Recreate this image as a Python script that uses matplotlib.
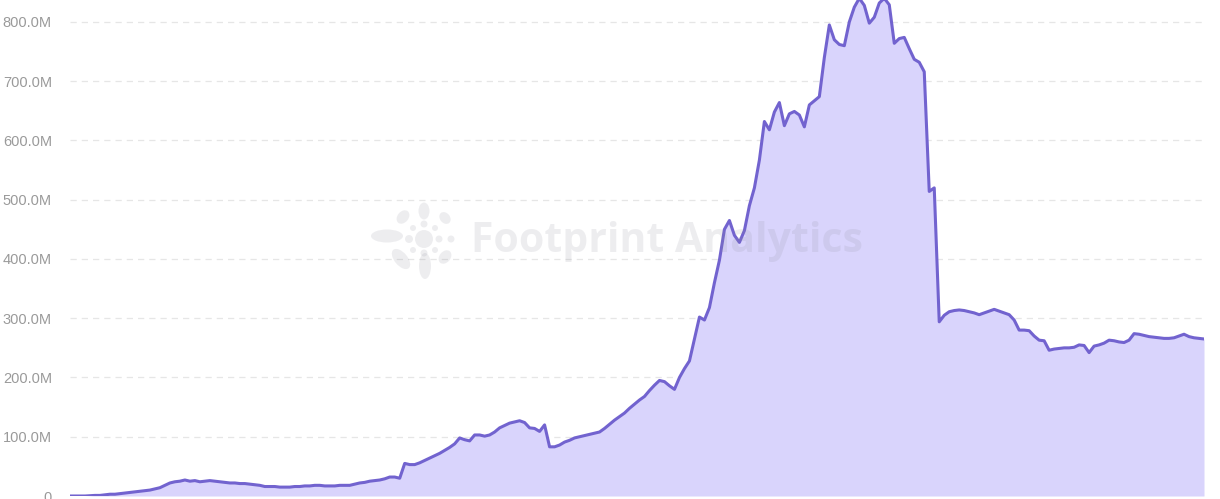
import matplotlib
matplotlib.use("Agg")
import matplotlib.pyplot as plt
from matplotlib.patches import Ellipse
from matplotlib.ticker import FuncFormatter
import numpy as np
import pandas as pd

# ---- data (values in millions, one per period) ----
values_m = [
    0, 0, 0, 0, 0.5, 1, 1, 2, 3, 3, 4, 5, 6, 7, 8, 9, 10, 12, 14, 18,
    22, 24, 25, 27, 25, 26, 24, 25, 26, 25, 24, 23, 22, 22, 21, 21, 20, 19, 18, 16,
    16, 16, 15, 15, 15, 16, 16, 17, 17, 18, 18, 17, 17, 17, 18, 18, 18, 20, 22, 23,
    25, 26, 27, 29, 32, 32, 30, 55, 53, 53, 56, 60, 64, 68, 72, 77, 82, 88, 98, 95,
    93, 103, 103, 101, 103, 108, 115, 119, 123, 125, 127, 124, 115, 114, 109, 120, 83, 83, 86, 91,
    94, 98, 100, 102, 104, 106, 108, 114, 121, 128, 134, 140, 148, 155, 162, 168, 178, 187, 195, 193,
    186, 180, 200, 215, 228, 265, 302, 297, 318, 360, 398, 450, 465, 440, 428, 448, 490, 520, 567, 632,
    618, 648, 664, 625, 645, 649, 643, 623, 660, 667, 674, 740, 795, 770, 762, 760, 800, 825, 840, 828,
    798, 808, 832, 840, 829, 764, 772, 774, 755, 737, 732, 716, 514, 520, 294, 305, 311, 313, 314, 313,
    311, 309, 306, 309, 312, 315, 312, 309, 306, 297, 280, 280, 279, 270, 263, 262, 246, 248, 249, 250,
    250, 251, 255, 254, 242, 253, 255, 258, 263, 262, 260, 259, 263, 274, 273, 271, 269, 268, 267, 266,
    266, 267, 270, 273, 269, 267, 266, 265,
]
y_ticks_m = [0, 100, 200, 300, 400, 500, 600, 700, 800]
watermark = "Footprint Analytics"

dates = pd.date_range("2021-01-01", periods=len(values_m), freq="D")
values = np.array(values_m) * 1e6

LINE = "#7263CF"
FILL = "#D9D4FC"

W, H = 1220, 499
fig = plt.figure(figsize=(W / 100, H / 100), dpi=100)
fig.patch.set_facecolor("white")
ax = fig.add_axes([70 / W, 3 / H, 1134 / W, 496 / H])
ax.set_facecolor("white")

ax.fill_between(dates, values, 0, color=FILL, linewidth=0, zorder=2)
ax.plot(dates, values, color=LINE, linewidth=2.2, zorder=3, solid_joinstyle="round")

ax.set_xlim(dates[0], dates[-1])
ax.set_ylim(0, 837.1e6)
ax.set_yticks([v * 1e6 for v in y_ticks_m])


def fmt(v, pos):
    if v == 0:
        return "0"
    return f"{v / 1e6:.1f}M"


ax.yaxis.set_major_formatter(FuncFormatter(fmt))
ax.tick_params(axis="y", length=0, pad=13, labelsize=10.5, labelcolor="#9a9a9a")
for lbl in ax.get_yticklabels():
    lbl.set_fontfamily("Liberation Sans")
ax.set_xticks([])
ax.grid(axis="y", color="#e6e6e6", linestyle=(0, (5, 4)), linewidth=0.9, zorder=1)
for s in ax.spines.values():
    s.set_visible(False)

# ---- watermark overlay in pixel coordinates ----
ov = fig.add_axes([0, 0, 1, 1], zorder=5)
ov.set_xlim(0, W)
ov.set_ylim(H, 0)
ov.axis("off")
ov.patch.set_alpha(0)
wm_col = (0.55, 0.55, 0.6, 0.15)
ov.text(667, 242, watermark, ha="center", va="center", fontsize=29.5,
        fontweight="bold", family="Open Sans", color=wm_col)
cx, cy = 424, 239
ov.add_patch(Ellipse((cx, cy), 18, 18, color=wm_col, lw=0))
petals = [
    (-37, -3, 32, 13, 0),
    (0, -28, 11, 17, 0),
    (1, 27, 12, 26, 0),
    (-23, 20, 13, 24, -40),
    (21, 18, 11, 15, 40),
    (-21, -22, 11, 15, 40),
    (21, -21, 10, 13, -40),
]
for dx, dy, w, h, a in petals:
    ov.add_patch(Ellipse((cx + dx, cy + dy), w, h, angle=a, color=wm_col, lw=0))
for dx, dy, r in [(-15, 0, 8), (15, 0, 7), (27, 0, 7), (0, -15, 7), (0, 14, 7),
                  (-11, -11, 6), (11, 11, 6), (11, -11, 6), (-11, 11, 6)]:
    ov.add_patch(Ellipse((cx + dx, cy + dy), r, r, color=wm_col, lw=0))

fig.savefig("out.png", dpi=100, facecolor="white")
